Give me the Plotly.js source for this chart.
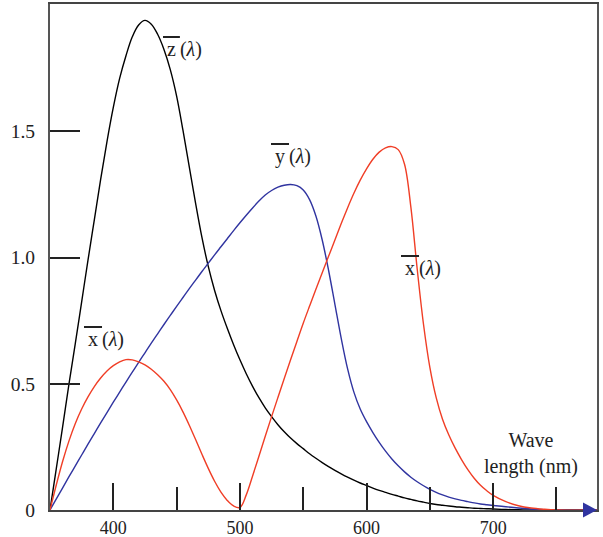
<!DOCTYPE html>
<html>
<head>
<meta charset="utf-8">
<script src="https://cdn.plot.ly/plotly-3.0.1.min.js"></script>
<style>html,body{margin:0;padding:0;background:#fff;}#chart{width:603px;height:537px;}</style>
</head>
<body>
<div id="chart"></div>
<script>
// wavelength grid (nm)
const wave = [350,355,360,365,370,375,380,385,390,395,
              400,405,410,415,420,425,430,435,440,445,
              450,455,460,465,470,475,480,485,490,495,
              500,505,510,515,520,525,530,535,540,545,
              550,555,560,565,570,575,580,585,590,595,
              600,605,610,615,620,625,630,635,640,645,
              650,655,660,665,670,675,680,685,690,695,
              700,710,720,730,740,750,782];

// z-bar (black)
const zBar = [0,0.165,0.33,0.50,0.66,0.825,0.99,1.15,1.31,1.46,
              1.595,1.71,1.80,1.875,1.922,1.94,1.925,1.885,1.825,1.745,
              1.64,1.505,1.36,1.215,1.08,0.965,0.87,0.79,0.72,0.655,
              0.595,0.54,0.49,0.445,0.405,0.37,0.338,0.31,0.285,0.263,
              0.243,0.223,0.205,0.188,0.172,0.157,0.143,0.130,0.118,0.107,
              0.097,0.087,0.078,0.070,0.062,0.055,0.048,0.042,0.036,0.031,
              0.026,0.022,0.019,0.016,0.013,0.011,0.009,0.007,0.006,0.005,
              0.004,0.002,0.001,0,0,0,0];

// y-bar (blue)
const yBar = [0,0.044,0.088,0.132,0.175,0.218,0.261,0.303,0.345,0.386,
              0.427,0.467,0.507,0.546,0.585,0.623,0.661,0.698,0.735,0.771,
              0.807,0.842,0.877,0.911,0.945,0.978,1.011,1.043,1.075,1.107,
              1.138,1.168,1.197,1.224,1.248,1.266,1.279,1.287,1.29,1.285,
              1.268,1.23,1.165,1.07,0.95,0.815,0.68,0.56,0.467,0.40,
              0.35,0.307,0.268,0.233,0.202,0.175,0.151,0.13,0.112,0.096,
              0.082,0.07,0.06,0.051,0.044,0.038,0.033,0.028,0.024,0.021,
              0.018,0.013,0.008,0.004,0.0015,0,0];

// x-bar (red)
const xBar = [0,0.10,0.193,0.274,0.343,0.40,0.448,0.489,0.523,0.551,
              0.572,0.587,0.596,0.595,0.587,0.575,0.558,0.536,0.51,0.477,
              0.436,0.389,0.336,0.279,0.221,0.165,0.114,0.071,0.038,0.016,
              0.01,0.06,0.135,0.213,0.292,0.37,0.446,0.521,0.595,0.668,
              0.74,0.808,0.875,0.94,1.005,1.07,1.135,1.197,1.255,1.307,
              1.352,1.39,1.418,1.435,1.44,1.428,1.37,1.2,0.955,0.735,
              0.565,0.445,0.36,0.297,0.245,0.20,0.16,0.126,0.098,0.076,
              0.058,0.033,0.017,0.008,0.003,0,0];

const xTickVals = [400,500,600,700];
const xTickText = ['400','500','600','700'];
const yTickVals = [0,0.5,1,1.5];
const yTickText = ['0','0.5','1.0','1.5'];

const serif = 'Liberation Serif, Times New Roman, serif';
const RED = 'rgb(240,62,38)', BLUE = 'rgb(48,52,160)', BLACK = '#000';
const line = (c) => ({color: c, width: 1.4, shape: 'spline', smoothing: 1});

const traces = [
  {x: wave, y: zBar, mode: 'lines', line: line(BLACK), hoverinfo: 'skip'},
  {x: wave, y: yBar, mode: 'lines', line: line(BLUE), hoverinfo: 'skip'},
  {x: wave, y: xBar, mode: 'lines', line: line(RED), hoverinfo: 'skip'}
];

const lab = (sym) => "<span style='text-decoration:overline'>\u2009" + sym + "\u2009</span>(<i>\u03bb</i>)";
const ann = (txt, px, py) => ({text: txt, xref: 'paper', yref: 'paper', x: px, y: py, showarrow: false,
  font: {family: serif, size: 20, color: '#222'}, xanchor: 'center', yanchor: 'middle'});
// paper coordinates: plot area x 50..597, y 4..510
const pxX = (p) => (p - 50) / 547, pxY = (p) => (510 - p) / 506;

const layout = {
  width: 603, height: 537,
  margin: {l: 50, r: 6, t: 4, b: 27},
  paper_bgcolor: '#fff', plot_bgcolor: '#fff',
  showlegend: false,
  font: {family: serif, size: 20, color: '#222'},
  xaxis: {
    range: [350, 782], showgrid: false, zeroline: false,
    showline: true, linecolor: '#444', linewidth: 2, mirror: true,
    tickvals: xTickVals, ticktext: xTickText,
    ticks: 'inside', ticklen: 27, tickwidth: 2, tickcolor: '#222',
    ticklabelstandoff: 0,
    tickfont: {family: serif, size: 18, color: '#222'},
    minor: {dtick: 50, tick0: 350, ticks: 'inside', ticklen: 23, tickwidth: 2, tickcolor: '#222', showgrid: false}
  },
  yaxis: {
    range: [0, 2.005], showgrid: false, zeroline: false,
    showline: true, linecolor: '#555', linewidth: 2, mirror: true,
    tickvals: yTickVals, ticktext: yTickText,
    ticks: 'inside', ticklen: 30, tickwidth: 2, tickcolor: '#222',
    ticklabelstandoff: 9,
    tickfont: {family: serif, size: 19.5, color: '#222'}
  },
  annotations: [
    ann(lab('z'), pxX(182), pxY(49)),
    ann(lab('y'), pxX(291), pxY(156)),
    ann(lab('x'), pxX(421), pxY(268)),
    ann(lab('x'), pxX(104), pxY(340)),
    ann('Wave<br>length (nm)', pxX(531), pxY(453))
  ],
  shapes: [
    {type: 'path', xref: 'paper', yref: 'paper', xsizemode: 'pixel', ysizemode: 'pixel',
     xanchor: 1, yanchor: 0, path: 'M 0 0 L -14 7.5 L -14 -7.5 Z',
     fillcolor: BLUE, line: {width: 0}}
  ]
};

Plotly.newPlot('chart', traces, layout, {staticPlot: true});
</script>
</body>
</html>
